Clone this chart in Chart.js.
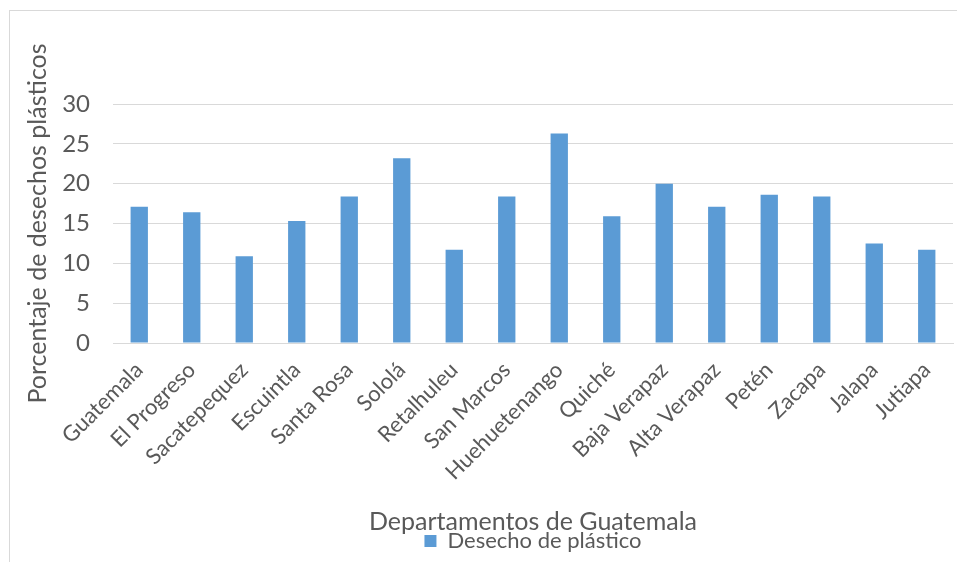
<!DOCTYPE html>
<html>
<head>
<meta charset="utf-8">
<script src="https://cdn.jsdelivr.net/npm/chart.js@4"></script>
<style>
  html, body { margin: 0; padding: 0; background: #fff; }
  #wrap { width: 957px; height: 562px; position: relative; }
</style>
</head>
<body>
<div id="wrap"><canvas id="plasticChart"></canvas></div>
<script>
// Departamentos y porcentaje de desechos plásticos
const departamentos = ['Guatemala', 'El Progreso', 'Sacatepequez', 'Escuintla', 'Santa Rosa', 'Sololá',
  'Retalhuleu', 'San Marcos', 'Huehuetenango', 'Quiché', 'Baja Verapaz', 'Alta Verapaz',
  'Petén', 'Zacapa', 'Jalapa', 'Jutiapa'];
const desechoPlastico = [17.1, 16.4, 10.9, 15.3, 18.4, 23.2, 11.7, 18.4, 26.3, 15.9, 20.0, 17.1, 18.6, 18.4, 12.5, 11.7];
const yTicks = [0, 5, 10, 15, 20, 25, 30];

const fontFamily = 'Lato, "Open Sans", sans-serif';
const gris = '#595959';

// marco gris alrededor del gráfico
const marco = {
  id: 'marco',
  beforeDraw(chart) {
    const c = chart.ctx;
    c.save();
    c.strokeStyle = '#d9d9d9';
    c.lineWidth = 1;
    c.strokeRect(9.5, 10.5, chart.width, chart.height);
    c.restore();
  }
};

const ctx = document.getElementById('plasticChart').getContext('2d');
const plasticChart = new Chart(ctx, {
  type: 'bar',
  data: {
    labels: departamentos,
    datasets: [{
      label: 'Desecho de plástico',
      data: desechoPlastico,
      backgroundColor: '#5b9bd5',
      borderWidth: 0,
      barPercentage: 0.33,
      categoryPercentage: 1.0
    }]
  },
  options: {
    responsive: true,
    maintainAspectRatio: false,
    animation: false,
    layout: { padding: { top: 104, left: 0, right: 4, bottom: 0 } },
    plugins: {
      legend: {
        position: 'bottom',
        fullSize: false,
        labels: {
          font: { family: fontFamily, size: 22 },
          color: gris,
          boxWidth: 12,
          boxHeight: 12,
          padding: 4
        }
      },
      tooltip: { enabled: false }
    },
    scales: {
      x: {
        grid: { display: false },
        border: { color: '#d9d9d9' },
        ticks: {
          font: { family: fontFamily, size: 22 },
          color: gris,
          maxRotation: 45,
          minRotation: 45,
          autoSkip: false,
          padding: 6
        },
        title: {
          display: true,
          text: 'Departamentos de Guatemala',
          font: { family: fontFamily, size: 25 },
          color: gris,
          padding: { top: 0, bottom: -11 }
        },
        // las etiquetas giradas no deben empujar el área del gráfico
        afterFit(axis) {
          axis.paddingLeft = 0;
          axis.paddingRight = 0;
          axis.height = 183;
        }
      },
      y: {
        min: 0,
        max: 30,
        afterBuildTicks(axis) {
          axis.ticks = yTicks.map(v => ({ value: v }));
        },
        grid: { color: '#d9d9d9', drawTicks: false },
        border: { display: false },
        ticks: {
          font: { family: fontFamily, size: 24 },
          color: gris,
          padding: 23
        },
        title: {
          display: true,
          text: 'Porcentaje de desechos plásticos',
          font: { family: fontFamily, size: 25 },
          color: gris,
          padding: { top: 23, bottom: 0 }
        },
        afterFit(axis) {
          axis.width = 113;
        }
      }
    }
  },
  plugins: [marco]
});
</script>
</body>
</html>
